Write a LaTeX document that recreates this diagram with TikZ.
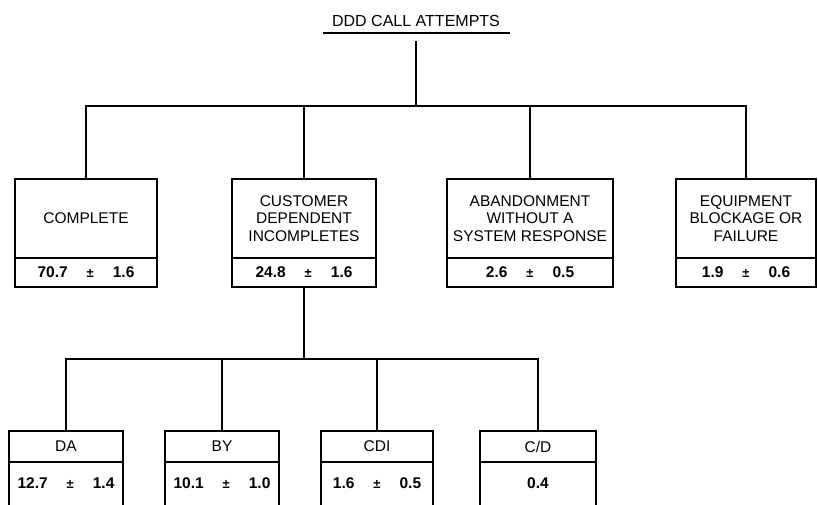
\documentclass[tikz,border=0pt]{standalone}
\usepackage{fontspec}
\setmainfont{Liberation Sans}
\usetikzlibrary{positioning}

\tikzset{
  cell/.style={draw, line width=1.4pt, outer sep=0pt, inner sep=2pt, align=center,
               font=\fontsize{15.5}{17.5}\selectfont},
  valcell/.style={cell, font=\fontsize{15.5}{17}\selectfont\bfseries},
  link/.style={line width=1.4pt},
}
% valor +- error
\newcommand{\pmv}[2]{#1\hspace{19pt}{\fontsize{13}{13}\selectfont ±}\hspace{19pt}#2}

\begin{document}
\begin{tikzpicture}[x=1pt, y=-1pt]  % coordenadas en pixeles
      \useasboundingbox (0,0) rectangle (818,504);

      % Titulo
      \node[font=\fontsize{16}{18}\selectfont, anchor=base] (title) at (416,26) {DDD CALL ATTEMPTS};
      \draw[line width=2pt] (323,33) -- (510,33);
      \coordinate (stem) at (416,41);
      \coordinate (bus) at (416,106);

      % Primer nivel
      \foreach \nm/\cx/\bw/\txt/\val in {
          complete/86/142/{COMPLETE}/{\pmv{70.7}{1.6}},
          custdep/304/144/{CUSTOMER\\DEPENDENT\\INCOMPLETES}/{\pmv{24.8}{1.6}},
          abandon/530/166/{ABANDONMENT\\WITHOUT A\\SYSTEM RESPONSE}/{\pmv{2.6}{0.5}},
          equip/746/140/{EQUIPMENT\\BLOCKAGE OR\\FAILURE}/{\pmv{1.9}{0.6}}} {
        \node[cell, minimum width=\bw pt, minimum height=79pt, anchor=north] (\nm) at (\cx,179) {\txt};
        \node[valcell, minimum width=\bw pt, minimum height=29pt, text height=11pt, text depth=2pt,
              anchor=north] (\nm-v) at (\nm.south) {\val};
      }

      % Conexiones del primer nivel
      \draw[link] (stem) -- (bus);
      \draw[link] (complete.north) -- (complete.north |- bus) -- (equip.north |- bus) -- (equip.north);
      \foreach \nm in {custdep,abandon} {
        \draw[link] (\nm.north) -- (\nm.north |- bus);
      }

      % Segundo nivel (desglose de incompletas)
      \coordinate (lbus) at (304,359);
      \foreach \nm/\cx/\bw/\txt/\val in {
          da/66/114/{DA}/{\pmv{12.7}{1.4}},
          by/222/114/{BY}/{\pmv{10.1}{1.0}},
          cdi/377/112/{CDI}/{\pmv{1.6}{0.5}},
          cd/538/116/{C/D}/{0.4}} {
        \node[cell, minimum width=\bw pt, minimum height=31pt, anchor=north] (\nm) at (\cx,431) {\txt};
        \node[valcell, minimum width=\bw pt, minimum height=50pt, text height=11pt, text depth=9pt,
              anchor=north] (\nm-v) at (\nm.south) {\val};
      }

      % Conexiones del segundo nivel
      \draw[link] (custdep-v.south) -- (custdep-v.south |- lbus);
      \draw[link] (da.north) -- (da.north |- lbus) -- (cd.north |- lbus) -- (cd.north);
      \foreach \nm in {by,cdi} {
        \draw[link] (\nm.north) -- (\nm.north |- lbus);
      }
\end{tikzpicture}
\end{document}
